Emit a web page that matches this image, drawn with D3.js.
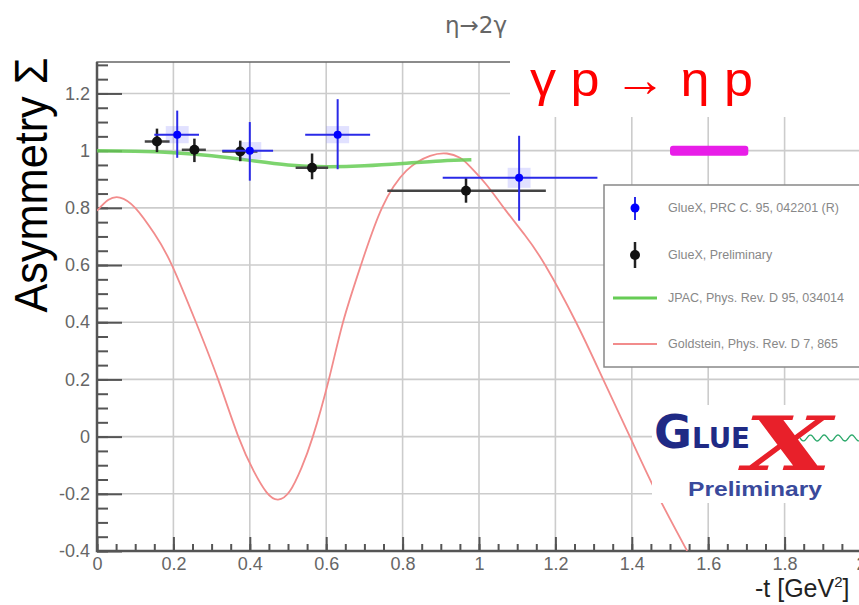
<!DOCTYPE html>
<html><head><meta charset="utf-8">
<script src="https://cdn.jsdelivr.net/npm/d3@7/dist/d3.min.js"></script>
<style>body{margin:0;background:#fff}svg{display:block}</style>
</head><body>
<script>
// ---- data ----
const xTicks = [0,0.2,0.4,0.6,0.8,1,1.2,1.4,1.6,1.8,2];
const yTicks = [-0.4,-0.2,0,0.2,0.4,0.6,0.8,1,1.2];
// GlueX PRC C 95, 042201 (R)  (blue)
const blueT   = [0.21, 0.40, 0.63, 1.105];
const blueV   = [1.056, 1.000, 1.056, 0.905];
const blueLo  = [0.975, 0.895, 0.935, 0.755];
const blueHi  = [1.140, 1.100, 1.180, 1.052];
const blueTlo = [0.150, 0.328, 0.545, 0.905];
const blueThi = [0.267, 0.461, 0.715, 1.310];
const blueSys = [0.03, 0.03, 0.03, 0.035];
// GlueX Preliminary (black)
const blackT   = [0.157, 0.255, 0.375, 0.563, 0.966];
const blackV   = [1.032, 1.003, 0.997, 0.940, 0.860];
const blackLo  = [0.995, 0.960, 0.963, 0.900, 0.818];
const blackHi  = [1.077, 1.042, 1.035, 0.990, 0.906];
const blackTlo = [0.125, 0.222, 0.328, 0.520, 0.760];
const blackThi = [0.190, 0.285, 0.420, 0.605, 1.175];
// JPAC curve (green)
const jpacT = [0, 0.1, 0.2, 0.3, 0.4, 0.5, 0.6, 0.7, 0.8, 0.9, 0.98];
const jpacV = [1.0, 0.998, 0.993, 0.982, 0.966, 0.950, 0.944, 0.947, 0.955, 0.964, 0.968];
// Goldstein curve (pink)
const goldT = [0, 0.03, 0.06, 0.10, 0.15, 0.196, 0.259, 0.317, 0.37, 0.41, 0.444, 0.474, 0.505, 0.535, 0.565, 0.607, 0.644, 0.691, 0.746, 0.81, 0.872, 0.916, 0.95, 0.976, 1.02, 1.065, 1.12, 1.173, 1.254, 1.325, 1.395, 1.466, 1.545];
const goldV = [0.79, 0.828, 0.836, 0.80, 0.71, 0.60, 0.40, 0.20, 0.0, -0.12, -0.195, -0.22, -0.19, -0.11, 0.0, 0.20, 0.40, 0.60, 0.80, 0.93, 0.982, 0.99, 0.975, 0.945, 0.88, 0.80, 0.705, 0.60, 0.40, 0.20, 0.0, -0.20, -0.40];
// magenta band
const bandT = [1.5, 1.705];
const bandV = 1.0;
const legendLabels = ["GlueX, PRC C. 95, 042201 (R)", "GlueX, Preliminary", "JPAC, Phys. Rev. D 95, 034014", "Goldstein, Phys. Rev. D 7, 865"];

// ---- drawing ----
const W = 859, H = 605;
const svg = d3.select("body").append("svg").attr("width", W).attr("height", H);
const x = d3.scaleLinear([0, 2], [97, 861]);
const y = d3.scaleLinear([-0.4, 1.31], [551, 62]);
const fmt = d => String(+d.toFixed(2));

svg.append("defs").append("clipPath").attr("id","plot")
  .append("rect").attr("x",97).attr("y",62).attr("width",764).attr("height",489);

// grid
const grid = svg.append("g").attr("stroke","#cccccc").attr("stroke-width",1.6);
xTicks.slice(1).forEach(t => grid.append("line").attr("x1",x(t)).attr("x2",x(t)).attr("y1",62).attr("y2",551));
yTicks.slice(1).forEach(v => grid.append("line").attr("x1",97).attr("x2",861).attr("y1",y(v)).attr("y2",y(v)));

// frame
svg.append("rect").attr("x",97).attr("y",62).attr("width",764).attr("height",489)
  .attr("fill","none").attr("stroke","#666").attr("stroke-width",1.5);

// axes
const minorY = d3.range(-0.4, 1.3001, 0.05).map(v => +v.toFixed(2));
const minorX = d3.range(0, 2.0001, 0.05).map(v => +v.toFixed(2));
const styleAxis = g => { g.select(".domain").remove(); g.selectAll("line").attr("stroke","#555").attr("stroke-width",2); };

svg.append("g").attr("transform","translate(97,0)")
  .call(d3.axisLeft(y).tickValues(minorY).tickSize(-11).tickFormat("")).call(styleAxis);
svg.append("g").attr("transform","translate(97,0)")
  .call(d3.axisLeft(y).tickValues(yTicks).tickSize(-25).tickPadding(7).tickFormat(fmt)).call(styleAxis)
  .selectAll("text").attr("font-family","Liberation Sans, Arial, sans-serif").attr("font-size",18).attr("fill","#666");
svg.append("g").attr("transform","translate(0,551)")
  .call(d3.axisBottom(x).tickValues(minorX).tickSize(-7).tickFormat("")).call(styleAxis);
svg.append("g").attr("transform","translate(0,551)")
  .call(d3.axisBottom(x).tickValues(xTicks).tickSize(-14).tickPadding(6).tickFormat(fmt)).call(styleAxis)
  .selectAll("text").attr("font-family","Liberation Sans, Arial, sans-serif").attr("font-size",18).attr("fill","#666");
svg.append("path").attr("d",`M97,62V551H861`).attr("fill","none").attr("stroke","#555").attr("stroke-width",2.5);

// curves
const plot = svg.append("g").attr("clip-path","url(#plot)");
const line = d3.line().x(d => x(d[0])).y(d => y(d[1])).curve(d3.curveNatural);
plot.append("path").attr("d", line(d3.zip(goldT, goldV)))
  .attr("fill","none").attr("stroke","#f28c8c").attr("stroke-width",1.8);
plot.append("path").attr("d", line(d3.zip(jpacT, jpacV)))
  .attr("fill","none").attr("stroke","#66cc55").attr("stroke-width",3.5).attr("stroke-opacity",0.85);

// blue systematic boxes
blueT.forEach((t,i) => {
  plot.append("rect").attr("x",x(t-0.03)).attr("width",x(t+0.03)-x(t-0.03))
    .attr("y",y(blueV[i]+blueSys[i])).attr("height",y(blueV[i]-blueSys[i])-y(blueV[i]+blueSys[i]))
    .attr("fill","#8888ff").attr("fill-opacity",0.25);
});
// black points
blackT.forEach((t,i) => {
  plot.append("line").attr("x1",x(blackTlo[i])).attr("x2",x(blackThi[i])).attr("y1",y(blackV[i])).attr("y2",y(blackV[i]))
    .attr("stroke","#444").attr("stroke-width",2.5);
  plot.append("line").attr("x1",x(t)).attr("x2",x(t)).attr("y1",y(blackLo[i])).attr("y2",y(blackHi[i]))
    .attr("stroke","#222").attr("stroke-width",2.5);
  plot.append("circle").attr("cx",x(t)).attr("cy",y(blackV[i])).attr("r",5).attr("fill","#111");
});
// blue points
blueT.forEach((t,i) => {
  plot.append("line").attr("x1",x(blueTlo[i])).attr("x2",x(blueThi[i])).attr("y1",y(blueV[i])).attr("y2",y(blueV[i]))
    .attr("stroke","#2a2ae8").attr("stroke-width",2);
  plot.append("line").attr("x1",x(t)).attr("x2",x(t)).attr("y1",y(blueLo[i])).attr("y2",y(blueHi[i]))
    .attr("stroke","#2a2ae8").attr("stroke-width",2);
  plot.append("circle").attr("cx",x(t)).attr("cy",y(blueV[i])).attr("r",4).attr("fill","#0000ff");
});
// magenta band
svg.append("rect").attr("x",x(bandT[0])).attr("width",x(bandT[1])-x(bandT[0]))
  .attr("y",y(bandV)-5).attr("height",10).attr("rx",3).attr("fill","#e81ee8");

// legend
const lg = svg.append("g");
lg.append("rect").attr("x",604).attr("y",185).attr("width",262).attr("height",182)
  .attr("fill","#fff").attr("stroke","#888").attr("stroke-width",1.5);
const ly = [208, 255, 298, 344];
lg.append("line").attr("x1",635).attr("x2",635).attr("y1",197).attr("y2",220).attr("stroke","#2a2ae8").attr("stroke-width",2);
lg.append("circle").attr("cx",635).attr("cy",ly[0]).attr("r",4.5).attr("fill","#0000ff");
lg.append("line").attr("x1",635).attr("x2",635).attr("y1",242).attr("y2",268).attr("stroke","#222").attr("stroke-width",2.5);
lg.append("circle").attr("cx",635).attr("cy",ly[1]).attr("r",5).attr("fill","#111");
lg.append("line").attr("x1",613).attr("x2",657).attr("y1",ly[2]).attr("y2",ly[2]).attr("stroke","#66cc55").attr("stroke-width",3);
lg.append("line").attr("x1",613).attr("x2",657).attr("y1",ly[3]).attr("y2",ly[3]).attr("stroke","#f28c8c").attr("stroke-width",2);
legendLabels.forEach((s,i) => lg.append("text").attr("x",668).attr("y",ly[i]+4).text(s)
  .attr("font-family","Liberation Sans, Arial, sans-serif").attr("font-size",12.5).attr("fill","#888"));

// title (partly covered later)
svg.append("text").attr("x",445).attr("y",33).text("η→2γ")
  .attr("font-family","DejaVu Sans, sans-serif").attr("font-size",23).attr("fill","#666");

// white overlay with reaction text
svg.append("rect").attr("x",510).attr("y",0).attr("width",349).attr("height",117).attr("fill","#fff");
svg.append("text").attr("x",530).attr("y",96).text("γ p → η p")
  .attr("font-family","Liberation Sans, Arial, sans-serif").attr("font-size",48).attr("fill","#ff0000")
  .attr("textLength",223).attr("lengthAdjust","spacingAndGlyphs");

// logo box
svg.append("rect").attr("x",652).attr("y",405).attr("width",207).attr("height",98).attr("fill","#fff");
const logo = svg.append("g");
logo.append("text").attr("x",654).attr("y",448).text("G")
  .attr("font-family","DejaVu Sans, sans-serif").attr("font-weight","bold").attr("font-size",46).attr("fill","#1f2a85")
  .attr("textLength",38).attr("lengthAdjust","spacingAndGlyphs");
logo.append("text").attr("x",692).attr("y",448).text("LUE")
  .attr("font-family","DejaVu Sans, sans-serif").attr("font-weight","bold").attr("font-size",29).attr("fill","#1f2a85")
  .attr("textLength",58).attr("lengthAdjust","spacingAndGlyphs");
const wave = d3.range(0, 60, 1).map(i => [800 + i, 438 + 3*Math.sin(i/2.2)]);
logo.append("path").attr("d", d3.line()(wave)).attr("fill","none").attr("stroke","#2aa86a").attr("stroke-width",1.3);
logo.append("text").attr("x",744).attr("y",470).text("X")
  .attr("font-family","DejaVu Serif, serif").attr("font-style","italic").attr("font-weight","bold").attr("font-size",74).attr("fill","#e8202a")
  .attr("textLength",88).attr("lengthAdjust","spacingAndGlyphs");
logo.append("text").attr("x",688).attr("y",496).text("Preliminary")
  .attr("font-family","Liberation Sans, Arial, sans-serif").attr("font-weight","bold").attr("font-size",21).attr("fill","#3a4a9c")
  .attr("textLength",134).attr("lengthAdjust","spacingAndGlyphs");

// axis titles
svg.append("text").attr("transform","translate(47,185) rotate(-90)").attr("text-anchor","middle").text("Asymmetry Σ")
  .attr("font-family","Liberation Sans, Arial, sans-serif").attr("font-size",46).attr("fill","#000")
  .attr("textLength",255).attr("lengthAdjust","spacingAndGlyphs");
const xt = svg.append("text").attr("x",755).attr("y",597)
  .attr("font-family","Liberation Sans, Arial, sans-serif").attr("font-size",25).attr("fill","#222");
xt.append("tspan").text("-t [GeV");
xt.append("tspan").attr("font-size",15).attr("dy",-10).text("2");
xt.append("tspan").attr("dy",10).text("]");
</script>
</body></html>
